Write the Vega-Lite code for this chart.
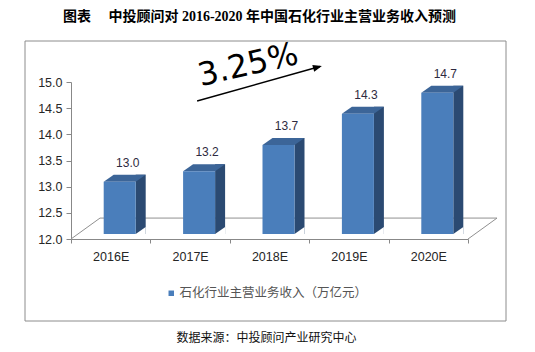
{
  "$schema": "https://vega.github.io/schema/vega-lite/v6.json",
  "autosize": {"type": "none"},
  "padding": {"left": 71, "top": 82, "right": 67, "bottom": 113},
  "width": 397,
  "height": 157,
  "background": "white",
  "config": {
    "view": {"stroke": null},
    "font": "Liberation Sans",
    "axisX": {"labelAngle": 0, "tickBand": "extent", "tickSize": 4, "labelPadding": 7, "labelAlign": "center", "domainColor": "#888", "tickColor": "#888", "labelColor": "#262626", "labelFontSize": 12.5, "labelFont": "Liberation Sans", "title": null},
    "axisY": {"tickCount": 7, "format": ".1f", "grid": false, "labelOverlap": false, "tickSize": 5, "labelPadding": 4, "domainColor": "#888", "tickColor": "#888", "labelColor": "#262626", "labelFontSize": 12.5, "labelFont": "Liberation Sans", "title": null}
  },
  "data": {"values": [
    {"year": "2016E", "value": 13.0, "series": "石化行业主营业务收入（万亿元）"},
    {"year": "2017E", "value": 13.2, "series": "石化行业主营业务收入（万亿元）"},
    {"year": "2018E", "value": 13.7, "series": "石化行业主营业务收入（万亿元）"},
    {"year": "2019E", "value": 14.3, "series": "石化行业主营业务收入（万亿元）"},
    {"year": "2020E", "value": 14.7, "series": "石化行业主营业务收入（万亿元）"}
  ]},
  "layer": [
    {
      "data": {"values": [{}]},
      "mark": {"type": "rule", "color": "#8c8c8c", "strokeWidth": 1, "xOffset": -85.7, "x2Offset": 77.7, "yOffset": -41, "y2Offset": -41},
      "encoding": {
        "x": {"datum": "2016E", "type": "nominal", "title": null},
        "x2": {"datum": "2020E"},
        "y": {"datum": 15, "type": "quantitative", "title": null},
        "y2": {"datum": 15}
      }
    },
    {
      "data": {"values": [{}]},
      "mark": {"type": "rule", "color": "#8c8c8c", "strokeWidth": 1, "xOffset": -85.7, "x2Offset": 77.7, "yOffset": 82, "y2Offset": 82},
      "encoding": {
        "x": {"datum": "2016E", "type": "nominal", "title": null},
        "x2": {"datum": "2020E"},
        "y": {"datum": 12, "type": "quantitative", "title": null},
        "y2": {"datum": 12}
      }
    },
    {
      "data": {"values": [{}]},
      "mark": {"type": "rule", "color": "#8c8c8c", "strokeWidth": 1, "xOffset": -85.7, "x2Offset": -85.7, "yOffset": -41, "y2Offset": 82},
      "encoding": {
        "x": {"datum": "2016E", "type": "nominal", "title": null},
        "x2": {"datum": "2016E"},
        "y": {"datum": 15, "type": "quantitative", "title": null},
        "y2": {"datum": 12}
      }
    },
    {
      "data": {"values": [{}]},
      "mark": {"type": "rule", "color": "#8c8c8c", "strokeWidth": 1, "xOffset": 77.7, "x2Offset": 77.7, "yOffset": -41, "y2Offset": 82},
      "encoding": {
        "x": {"datum": "2020E", "type": "nominal", "title": null},
        "x2": {"datum": "2020E"},
        "y": {"datum": 15, "type": "quantitative", "title": null},
        "y2": {"datum": 12}
      }
    },
    {
      "data": {"values": [{}]},
      "mark": {"type": "rule", "color": "#909090", "strokeWidth": 1, "xOffset": -10.7, "x2Offset": 68.7},
      "encoding": {
        "x": {"datum": "2016E", "type": "nominal", "title": null},
        "x2": {"datum": "2020E"},
        "y": {"datum": 12.4, "type": "quantitative", "title": null},
        "y2": {"datum": 12.4}
      }
    },
    {
      "data": {"values": [{}]},
      "mark": {"type": "rule", "color": "#909090", "strokeWidth": 1, "xOffset": -39.7, "x2Offset": -10.7},
      "encoding": {
        "x": {"datum": "2016E", "type": "nominal", "title": null},
        "x2": {"datum": "2016E"},
        "y": {"datum": 12, "type": "quantitative", "title": null},
        "y2": {"datum": 12.4}
      }
    },
    {
      "data": {"values": [{}]},
      "mark": {"type": "rule", "color": "#909090", "strokeWidth": 1, "xOffset": 39.7, "x2Offset": 68.7},
      "encoding": {
        "x": {"datum": "2020E", "type": "nominal", "title": null},
        "x2": {"datum": "2020E"},
        "y": {"datum": 12, "type": "quantitative", "title": null},
        "y2": {"datum": 12.4}
      }
    },
    {
      "mark": {"type": "bar", "width": 10, "xOffset": 30, "yOffset": -12, "y2Offset": -5, "color": "#2b4a72"},
      "encoding": {
        "x": {"field": "year", "type": "nominal", "title": null},
        "y": {"field": "value", "type": "quantitative", "title": null},
        "y2": {"datum": 12}
      }
    },
    {
      "mark": {"type": "point", "shape": "M25,-5L35,-12L35,-5Z", "size": 4, "filled": true, "opacity": 1, "color": "white", "strokeWidth": 0},
      "encoding": {
        "x": {"field": "year", "type": "nominal", "title": null},
        "y": {"datum": 12, "type": "quantitative", "title": null}
      }
    },
    {
      "mark": {"type": "point", "shape": "M-7,-5L25,-5L35,-12L3,-12Z", "size": 4, "filled": true, "opacity": 1, "color": "#3c6598", "strokeWidth": 0},
      "encoding": {
        "x": {"field": "year", "type": "nominal", "title": null},
        "y": {"field": "value", "type": "quantitative", "title": null}
      }
    },
    {
      "mark": {"type": "bar", "width": 32, "xOffset": 9, "yOffset": -5, "y2Offset": -5},
      "encoding": {
        "x": {
          "field": "year", "type": "nominal", "title": null, "sort": null,
          "scale": {"paddingInner": 0, "paddingOuter": 0},
          "axis": {"labelAngle": 0, "tickBand": "extent", "labelAlign": "center", "labelPadding": 7}
        },
        "y": {
          "field": "value", "type": "quantitative", "title": null,
          "scale": {"domain": [12, 15], "nice": false, "zero": false},
          "axis": {"values": [12, 12.5, 13, 13.5, 14, 14.5, 15], "tickCount": 7, "format": ".1f", "labelOverlap": false}
        },
        "y2": {"datum": 12},
        "color": {
          "field": "series", "type": "nominal",
          "scale": {"range": ["#4a7ebb"]},
          "legend": {"orient": "none", "legendX": 94, "legendY": 205, "title": null, "symbolType": "square", "symbolSize": 30, "symbolStrokeWidth": 0, "labelFont": "Noto Sans CJK SC", "labelFontSize": 12.5, "labelColor": "#555555", "labelLimit": 400, "padding": 0, "labelOffset": 2}
        }
      }
    },
    {
      "mark": {"type": "text", "dx": 17, "dy": -17, "baseline": "bottom", "align": "center", "fontSize": 12, "font": "Liberation Sans", "color": "#2e2a40"},
      "encoding": {
        "x": {"field": "year", "type": "nominal", "title": null},
        "y": {"field": "value", "type": "quantitative", "title": null},
        "text": {"field": "value", "type": "quantitative", "format": ".1f"}
      }
    },
    {
      "data": {"values": [{}]},
      "mark": {"type": "text", "text": "3.25%", "font": "DejaVu Sans", "fontSize": 32, "angle": 347, "align": "center", "baseline": "middle", "xOffset": -21.5, "yOffset": -17, "color": "#000000"},
      "encoding": {
        "x": {"datum": "2018E", "type": "nominal", "title": null},
        "y": {"datum": 15, "type": "quantitative", "title": null}
      }
    },
    {
      "data": {"values": [{}]},
      "mark": {"type": "rule", "color": "#000000", "strokeWidth": 1.5, "xOffset": 7, "x2Offset": -29, "yOffset": 19, "y2Offset": -15.5},
      "encoding": {
        "x": {"datum": "2017E", "type": "nominal", "title": null},
        "x2": {"datum": "2019E"},
        "y": {"datum": 15, "type": "quantitative", "title": null},
        "y2": {"datum": 15}
      }
    },
    {
      "data": {"values": [{}]},
      "mark": {"type": "point", "shape": "M0,0L-9,-3.5L-9,3.5Z", "size": 4, "filled": true, "opacity": 1, "color": "#000000", "strokeWidth": 0, "angle": 344, "xOffset": -27, "yOffset": -16},
      "encoding": {
        "x": {"datum": "2019E", "type": "nominal", "title": null},
        "y": {"datum": 15, "type": "quantitative", "title": null}
      }
    },
    {
      "data": {"values": [{}]},
      "mark": {"type": "text", "text": "图表　 中投顾问对 2016-2020 年中国石化行业主营业务收入预测", "font": "'Liberation Serif', 'Noto Sans CJK SC'", "fontWeight": "bold", "fontSize": 14, "align": "center", "baseline": "middle", "dx": -10, "dy": -65, "color": "#000000"},
      "encoding": {
        "y": {"datum": 15, "type": "quantitative", "title": null}
      }
    },
    {
      "data": {"values": [{}]},
      "mark": {"type": "text", "text": "数据来源：中投顾问产业研究中心", "font": "Noto Sans CJK SC", "fontSize": 12, "align": "center", "baseline": "middle", "dx": -3, "dy": 99, "color": "#111111"},
      "encoding": {
        "y": {"datum": 12, "type": "quantitative", "title": null}
      }
    }
  ]
}
